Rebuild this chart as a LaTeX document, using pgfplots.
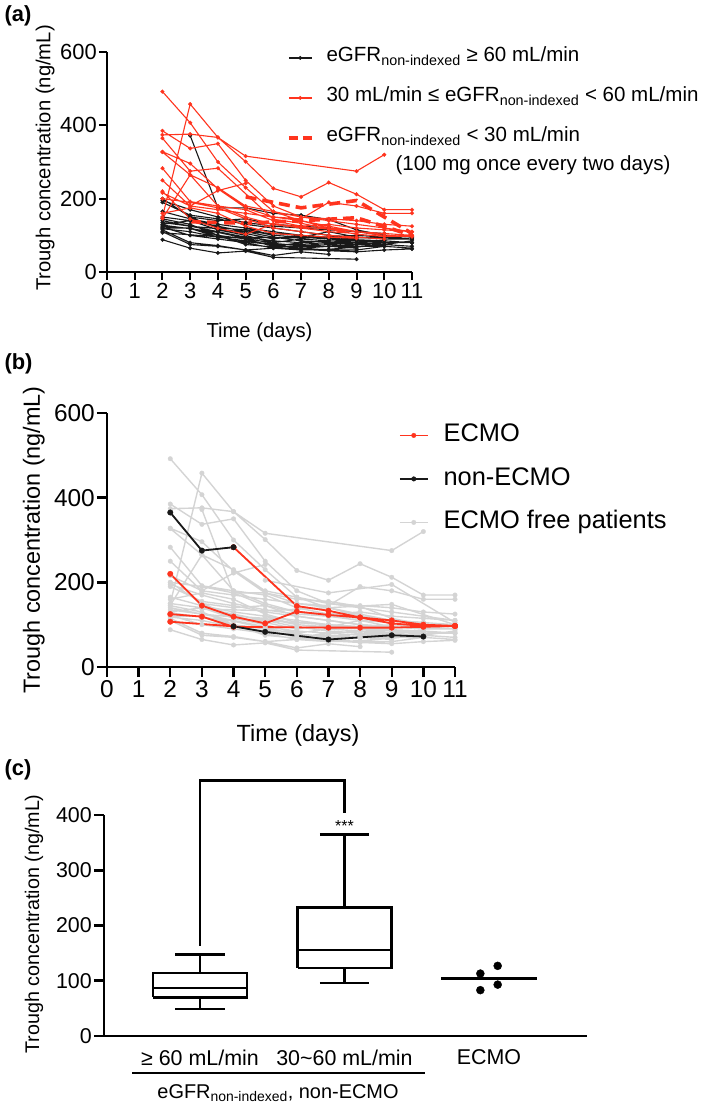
\documentclass[border=0pt]{standalone}
\usepackage{fontspec}
\setmainfont{Liberation Sans}
\usepackage{pgfplots}
\usepackage{pgfplotstable}
\pgfplotsset{compat=1.18}
\definecolor{myred}{RGB}{255,52,30}
\definecolor{lgrey}{RGB}{212,212,212}
\definecolor{dblack}{RGB}{25,25,25}

% eGFR >= 60 (black in a)
\pgfplotstableread{
d v
3 372
4 175
5 175
6 160
7 155
8 143
9 115
10 100
11 95
nan nan
2 200
3 150
4 120
5 115
6 100
7 95
8 90
9 85
10 85
11 80
nan nan
2 195
3 170
4 150
5 135
6 125
7 120
8 115
9 110
10 100
11 95
nan nan
2 165
3 145
4 130
5 120
6 110
7 100
8 95
9 90
nan nan
2 150
3 140
4 125
5 110
6 95
7 85
8 80
9 80
10 75
11 70
nan nan
2 125
3 119
4 95
7 93
8 93
9 93
10 95
11 97
nan nan
2 107
4 96
5 83
7 65
9 75
10 72
nan nan
2 140
3 125
4 110
5 95
6 85
7 80
8 75
9 70
10 70
11 65
nan nan
2 120
3 120
4 100
5 90
6 70
7 70
8 70
9 65
nan nan
2 115
3 80
4 72
5 60
6 45
7 55
8 48
nan nan
2 88
3 65
4 52
5 57
6 40
9 35
nan nan
2 110
3 75
4 70
5 60
6 65
7 65
8 60
9 60
10 70
nan nan
2 130
3 140
4 115
5 100
6 80
7 90
8 85
9 85
10 80
11 80
nan nan
2 118
3 110
4 95
5 85
6 75
7 75
8 70
9 70
nan nan
2 135
3 125
4 118
5 105
6 90
7 100
8 95
9 100
10 95
11 90
nan nan
2 122
3 100
4 90
5 80
6 65
7 60
8 62
9 68
10 75
11 85
nan nan
3 150
4 140
5 145
6 130
7 125
8 120
9 110
10 105
nan nan
5 120
6 100
7 95
8 110
9 95
10 90
11 90
nan nan
2 190
3 155
4 145
5 130
6 120
7 110
8 100
9 95
10 90
11 90
nan nan
6 70
7 80
8 85
9 80
10 85
nan nan
2 128
3 118
4 108
5 92
6 78
7 72
8 78
9 76
10 80
nan nan
4 115
5 110
6 105
7 100
8 90
9 88
10 85
11 80
nan nan
2 145
3 130
4 100
5 75
6 68
7 62
8 58
9 55
10 60
11 63
}\blackdata

% 30 <= eGFR < 60 (red in a)
\pgfplotstableread{
d v
2 492
3 407
4 300
5 230
6 165
7 140
8 120
9 110
10 105
11 100
nan nan
2 150
3 458
4 367
5 316
9 275
10 320
nan nan
2 374
3 376
4 367
5 301
6 228
7 205
8 244
9 212
10 170
11 170
nan nan
2 385
3 337
4 350
5 250
6 180
7 150
8 140
9 130
10 120
11 110
nan nan
2 365
3 275
4 283
6 144
7 133
8 117
9 103
10 97
11 97
nan nan
2 328
3 296
4 227
5 175
6 150
7 145
8 190
9 180
10 160
11 160
nan nan
2 327
3 265
4 180
5 150
6 130
7 120
8 110
9 105
nan nan
2 283
3 192
4 180
5 170
6 140
7 125
8 130
9 120
10 115
11 110
nan nan
2 216
3 180
4 222
5 242
nan nan
2 220
3 145
4 119
5 103
6 131
7 123
8 117
9 110
10 100
11 97
nan nan
2 250
3 180
4 170
5 160
6 150
7 140
8 125
9 110
10 105
11 100
nan nan
2 200
3 190
4 175
5 145
6 120
7 110
8 100
9 95
10 90
nan nan
2 146
3 265
4 230
5 180
6 165
7 150
8 145
9 140
10 130
11 125
nan nan
2 160
3 175
4 160
5 125
6 105
7 100
8 95
9 92
}\reddata

% eGFR < 30 (dashed)
\pgfplotstableread{
d v
5 205
7 175
9 195
11 105
nan nan
3 137
5 133
7 140
9 148
11 100
}\dashdata

% ECMO periods (panel b)
\pgfplotstableread{
d v
2 220
3 145
4 119
5 103
6 131
7 123
8 117
9 110
10 100
11 97
nan nan
4 283
6 144
7 133
8 117
9 103
10 97
11 97
nan nan
2 125
3 119
4 95
7 93
8 93
9 93
10 95
11 97
nan nan
2 107
4 96
}\ecmodata

% non-ECMO periods of ECMO patients (panel b)
\pgfplotstableread{
d v
2 365
3 275
4 283
nan nan
4 96
5 83
7 65
9 75
10 72
}\nonecmodata

\begin{document}
\begin{tikzpicture}
\useasboundingbox (0,0) rectangle (709bp,-1109bp);

% ---------------- (a)
\begin{axis}[
  scale only axis, width=305bp, height=220bp,
  at={(107bp,-272bp)}, anchor=south west,
  xmin=0, xmax=11, ymin=0, ymax=600,
  axis lines=left, axis line style={-, line width=2bp},
  xtick={0,1,...,11}, ytick={0,200,400,600},
  tick align=outside, major tick length=8bp,
  tick style={black, line width=2bp},
  /pgf/number format/assume math mode=true,
  tick label style={font=\fontsize{22}{26}\selectfont},
  xticklabel style={inner sep=3bp},
  yticklabel style={inner sep=2bp},
  xlabel={Time (days)}, ylabel={Trough concentration (ng/mL)},
  label style={font=\fontsize{20.3}{24}\selectfont},
  xlabel style={at={(axis description cs:0.5,-0.273)}, anchor=center},
  ylabel style={at={(axis description cs:-0.203,0.518)}, anchor=center},
  unbounded coords=jump, clip=false,
  legend style={at={(axis description cs:0.590,1.023)}, anchor=north west,
    draw=none, fill=none, inner sep=0pt, outer sep=0pt,
    row sep=18bp, column sep=13bp, font=\fontsize{20.6}{24}\selectfont,
    nodes={inner sep=0pt, text height=15bp, text depth=7bp}},
  legend cell align=left,
  legend image code/.code={\draw[mark repeat=2,mark phase=2] plot coordinates {(0bp,0bp)(11.5bp,0bp)(23bp,0bp)};},
]
\addplot[forget plot, dblack, line width=1.1bp, mark=*, mark size=1.9bp, mark options={line width=0.3bp}] table[x=d,y=v] {\blackdata};
\addplot[forget plot, myred, line width=1.1bp, mark=*, mark size=1.9bp, mark options={line width=0.3bp}] table[x=d,y=v] {\reddata};
\addplot[forget plot, myred, line width=3.6bp, dash pattern=on 11bp off 6bp] table[x=d,y=v] {\dashdata};
\addlegendimage{dblack, line width=1.1bp, mark=*, mark size=1.8bp, mark options={line width=0.3bp}}
\addlegendentry{eGFR\textsubscript{non-indexed} ≥ 60 mL/min}
\addlegendimage{myred, line width=1.1bp, mark=*, mark size=1.8bp, mark options={line width=0.3bp}}
\addlegendentry{30 mL/min ≤ eGFR\textsubscript{non-indexed} < 60 mL/min}
\addlegendimage{myred, line width=3.6bp, dash pattern=on 9bp off 5bp}
\addlegendentry{eGFR\textsubscript{non-indexed} < 30 mL/min}
\end{axis}
\node[anchor=base west, font=\fontsize{20.6}{24}\selectfont] at (392bp,-170bp) {(100 mg once every two days)};
\node[anchor=west, font=\bfseries\fontsize{22}{26}\selectfont] at (1bp,-16bp) {(a)};

% ---------------- (b)
\begin{axis}[
  scale only axis, width=348bp, height=254bp,
  at={(107bp,-667bp)}, anchor=south west,
  xmin=0, xmax=11, ymin=0, ymax=600,
  axis lines=left, axis line style={-, line width=2.4bp},
  xtick={0,1,...,11}, ytick={0,200,400,600},
  tick align=outside, major tick length=10bp,
  tick style={black, line width=2.4bp},
  /pgf/number format/assume math mode=true,
  tick label style={font=\fontsize{24.5}{28}\selectfont},
  xticklabel style={inner sep=3bp},
  yticklabel style={inner sep=2bp},
  xlabel={Time (days)}, ylabel={Trough concentration (ng/mL)},
  label style={font=\fontsize{23.5}{28}\selectfont},
  xlabel style={at={(axis description cs:0.549,-0.268)}, anchor=center},
  ylabel style={at={(axis description cs:-0.21,0.5)}, anchor=center},
  unbounded coords=jump, clip=false,
  legend style={at={(axis description cs:0.839,0.961)}, anchor=north west,
    draw=none, fill=none, inner sep=0pt, outer sep=0pt,
    row sep=18.5bp, column sep=15bp, font=\fontsize{25.5}{30}\selectfont,
    nodes={inner sep=0pt, text height=19bp, text depth=6bp}},
  legend cell align=left,
  legend image code/.code={\draw[mark repeat=2,mark phase=2] plot coordinates {(0bp,0bp)(14bp,0bp)(28bp,0bp)};},
]
\addplot[forget plot, lgrey, line width=1.4bp, mark=*, mark size=2.3bp, mark options={line width=0.3bp}] table[x=d,y=v] {\blackdata};
\addplot[forget plot, lgrey, line width=1.4bp, mark=*, mark size=2.3bp, mark options={line width=0.3bp}] table[x=d,y=v] {\reddata};
\addplot[forget plot, lgrey, line width=1.4bp, mark=*, mark size=2.3bp, mark options={line width=0.3bp}] table[x=d,y=v] {\dashdata};
\addplot[forget plot, myred, line width=1.8bp, mark=*, mark size=2.8bp, mark options={line width=0.3bp}] table[x=d,y=v] {\ecmodata};
\addplot[forget plot, dblack, line width=1.8bp, mark=*, mark size=2.8bp, mark options={line width=0.3bp}] table[x=d,y=v] {\nonecmodata};
\addlegendimage{myred, line width=1.6bp, mark=*, mark size=2.3bp, mark options={line width=0.3bp}}
\addlegendentry{ECMO}
\addlegendimage{dblack, line width=1.6bp, mark=*, mark size=2.3bp, mark options={line width=0.3bp}}
\addlegendentry{non-ECMO}
\addlegendimage{lgrey, line width=1.6bp, mark=*, mark size=2.3bp, mark options={line width=0.3bp}}
\addlegendentry{ECMO free patients}
\end{axis}
\node[anchor=west, font=\bfseries\fontsize{22}{26}\selectfont] at (1bp,-364bp) {(b)};

% ---------------- (c)
\begin{axis}[
  scale only axis, width=483bp, height=221bp,
  at={(104bp,-1036bp)}, anchor=south west,
  xmin=0.336, xmax=3.678, ymin=0, ymax=400,
  axis lines=left, axis line style={-, line width=2.8bp},
  xtick={1,2,3}, xticklabels={{≥ 60 mL/min},{30\textasciitilde 60 mL/min},{ECMO}},
  ytick={0,100,200,300,400},
  tick align=outside, major tick length=10bp,
  ytick style={black, line width=2.8bp},
  xtick style={draw=none},
  /pgf/number format/assume math mode=true,
  tick label style={font=\fontsize{21.5}{25}\selectfont},
  yticklabel style={inner sep=2bp},
  ylabel={Trough concentration (ng/mL)},
  label style={font=\fontsize{19.8}{23}\selectfont},
  ylabel style={at={(axis description cs:-0.145,0.507)}, anchor=center},
  clip=false,
]
% box 1 (>= 60, non-ECMO)
\addplot[black, line width=2.6bp] coordinates {(0.675,70) (1.325,70) (1.325,114) (0.675,114) (0.675,70)};
\addplot[black, line width=2.6bp] coordinates {(0.675,87) (1.325,87)};
\addplot[black, line width=2.6bp] coordinates {(1,114) (1,148)};
\addplot[black, line width=2.6bp] coordinates {(0.83,148) (1.17,148)};
\addplot[black, line width=2.6bp] coordinates {(1,70) (1,49)};
\addplot[black, line width=2.6bp] coordinates {(0.83,49) (1.17,49)};
% box 2 (30~60, non-ECMO)
\addplot[black, line width=2.6bp] coordinates {(1.675,123) (2.325,123) (2.325,233) (1.675,233) (1.675,123)};
\addplot[black, line width=2.6bp] coordinates {(1.675,156) (2.325,156)};
\addplot[black, line width=2.6bp] coordinates {(2,233) (2,365)};
\addplot[black, line width=2.6bp] coordinates {(1.83,365) (2.17,365)};
\addplot[black, line width=2.6bp] coordinates {(2,123) (2,96)};
\addplot[black, line width=2.6bp] coordinates {(1.83,96) (2.17,96)};
% ECMO
\addplot[black, line width=2.6bp] coordinates {(2.67,104) (3.33,104)};
\addplot[only marks, black, mark=*, mark size=4bp] coordinates {(2.94,113) (3.06,127) (2.94,83) (3.06,93)};
% significance bracket
\addplot[black, line width=2.8bp, line join=miter] coordinates {(1,163) (1,462) (2,462) (2,403)};
\node[font=\fontsize{16}{18}\selectfont] at (axis cs:2,380) {***};
\end{axis}
\draw[line width=2.2bp] (132bp,-1073bp) -- (425bp,-1073bp);
\node[anchor=base, font=\fontsize{20}{24}\selectfont] at (278bp,-1098bp) {eGFR\textsubscript{non-indexed}, non-ECMO};
\node[anchor=west, font=\bfseries\fontsize{22}{26}\selectfont] at (1bp,-770bp) {(c)};
\end{tikzpicture}
\end{document}
